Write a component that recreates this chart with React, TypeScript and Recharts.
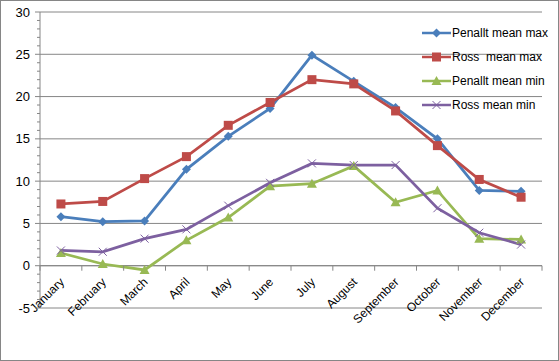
import React from 'react';
import { LineChart, Line, XAxis, YAxis, CartesianGrid, ReferenceLine } from 'recharts';

const months = [
  'January', 'February', 'March', 'April', 'May', 'June',
  'July', 'August', 'September', 'October', 'November', 'December',
];
const penalltMax = [5.8, 5.2, 5.3, 11.4, 15.3, 18.6, 24.9, 21.8, 18.7, 15.0, 8.9, 8.8];
const rossMax = [7.3, 7.6, 10.3, 12.9, 16.6, 19.3, 22.0, 21.5, 18.3, 14.2, 10.2, 8.1];
const penalltMin = [1.5, 0.2, -0.5, 3.0, 5.7, 9.4, 9.7, 11.8, 7.5, 8.9, 3.2, 3.1];
const rossMin = [1.8, 1.65, 3.2, 4.3, 7.1, 9.8, 12.1, 11.9, 11.9, 6.8, 3.9, 2.5];

const majorTicks = [-5, 0, 5, 10, 15, 20, 25, 30];
const minorTicks = Array.from({ length: 36 }, (_, i) => i - 5);

const W = 559;
const H = 361;
const M = { top: 12, right: 17, bottom: 0, left: 0 };
const Y_AXIS_W = 40;
const X_AXIS_H = 53;
const PLOT_LEFT = M.left + Y_AXIS_W;
const PLOT_W = W - PLOT_LEFT - M.right;
const PLOT_H = H - M.top - X_AXIS_H;
const BAND = PLOT_W / months.length;
// y pixel of the zero line (axis crosses there, like Excel)
const ZERO_Y = M.top + (PLOT_H * 30) / 35;

const AXIS = '#868686';
const FONT = '"Liberation Sans", Arial, sans-serif';

const series = [
  { key: 'penalltMax', name: 'Penallt mean max', color: '#4A7EBB', marker: 'diamond' },
  { key: 'rossMax', name: 'Ross  mean max', color: '#BE4B48', marker: 'square' },
  { key: 'penalltMin', name: 'Penallt mean min', color: '#98B954', marker: 'triangle' },
  { key: 'rossMin', name: 'Ross mean min', color: '#7D60A0', marker: 'x' },
];

const data = months.map((m, i) => ({
  month: m,
  penalltMax: penalltMax[i],
  rossMax: rossMax[i],
  penalltMin: penalltMin[i],
  rossMin: rossMin[i],
}));

const Marker = ({ type, cx, cy, color }: any) => {
  if (cx == null || cy == null) return null;
  if (type === 'diamond') {
    const r = 4.5;
    return <polygon points={`${cx},${cy - r} ${cx + r},${cy} ${cx},${cy + r} ${cx - r},${cy}`} fill={color} />;
  }
  if (type === 'square') {
    return <rect x={cx - 4.5} y={cy - 4.5} width={9} height={9} fill={color} />;
  }
  if (type === 'triangle') {
    return <polygon points={`${cx},${cy - 5} ${cx + 5},${cy + 4} ${cx - 5},${cy + 4}`} fill={color} />;
  }
  const r = 4;
  return (
    <g stroke={color} strokeWidth={1}>
      <line x1={cx - r} y1={cy - r} x2={cx + r} y2={cy + r} />
      <line x1={cx - r} y1={cy + r} x2={cx + r} y2={cy - r} />
    </g>
  );
};

const YTick = ({ y, payload }: any) => {
  const major = payload.value % 5 === 0;
  return (
    <g>
      <line x1={PLOT_LEFT - (major ? 5 : 3)} x2={PLOT_LEFT} y1={y} y2={y} stroke={AXIS} />
      {major && (
        <text x={PLOT_LEFT - 10} y={y} dy={4.5} textAnchor="end" fontSize={13} fill="#000" fontFamily={FONT}>
          {payload.value}
        </text>
      )}
    </g>
  );
};

const XTick = ({ x, payload, index }: any) => {
  const left = x - BAND / 2;
  const last = index === months.length - 1;
  const tx = x + 4;
  const ty = ZERO_Y + 17;
  return (
    <g>
      <line x1={left} x2={left} y1={ZERO_Y} y2={ZERO_Y + 5} stroke={AXIS} />
      {last && <line x1={x + BAND / 2} x2={x + BAND / 2} y1={ZERO_Y} y2={ZERO_Y + 5} stroke={AXIS} />}
      <text
        x={tx}
        y={ty}
        textAnchor="end"
        fontSize={12}
        fill="#000"
        fontFamily={FONT}
        transform={`rotate(-45 ${tx} ${ty})`}
      >
        {payload.value}
      </text>
    </g>
  );
};

const LegendBox = () => (
  <div style={{ position: 'absolute', left: 422, top: 21, fontFamily: FONT, fontSize: 12 }}>
    {series.map((s) => (
      <div key={s.key} style={{ display: 'flex', alignItems: 'center', height: 24 }}>
        <svg width={29} height={12} style={{ marginRight: 1 }}>
          <line x1={0} x2={29} y1={6} y2={6} stroke={s.color} strokeWidth={2.5} />
          <Marker type={s.marker} cx={14.5} cy={6} color={s.color} />
        </svg>
        <span style={{ whiteSpace: 'pre' }}>{s.name}</span>
      </div>
    ))}
  </div>
);

export default function App() {
  return (
    <div style={{ position: 'absolute', left: 0, top: 0, width: W, height: H, background: '#fff' }}>
      <LineChart width={W} height={H} data={data} margin={M}>
        <CartesianGrid horizontal vertical={false} horizontalValues={majorTicks} stroke={AXIS} strokeWidth={1} />
        <XAxis
          dataKey="month"
          scale="band"
          height={X_AXIS_H}
          axisLine={false}
          tickLine={false}
          interval={0}
          tick={<XTick />}
        />
        <YAxis
          domain={[-5, 30]}
          ticks={minorTicks}
          interval={0}
          width={Y_AXIS_W}
          axisLine={{ stroke: AXIS }}
          tickLine={false}
          tick={<YTick />}
        />
        <ReferenceLine y={0} stroke={AXIS} strokeWidth={1} />
        {series.map((s) => (
          <Line
            key={s.key}
            dataKey={s.key}
            name={s.name}
            stroke={s.color}
            strokeWidth={2.75}
            isAnimationActive={false}
            dot={(p: any) => <Marker key={`${s.key}-${p.index}`} type={s.marker} cx={p.cx} cy={p.cy} color={s.color} />}
            activeDot={false}
          />
        ))}
      </LineChart>
      <LegendBox />
      <div
        style={{
          position: 'absolute', left: 0, top: 0, width: W, height: H,
          border: `1px solid ${AXIS}`, boxSizing: 'border-box', pointerEvents: 'none',
        }}
      />
    </div>
  );
}
